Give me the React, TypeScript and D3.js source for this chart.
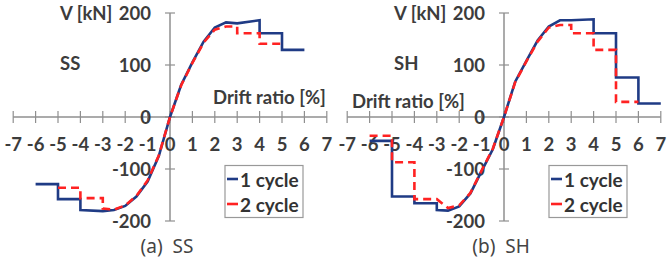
import React from 'react';
import * as d3 from 'd3';

const width = 669;
const height = 262;

// x ticks (drift ratio %) and y ticks (kN)
const xTicks = [-7, -6, -5, -4, -3, -2, -1, 0, 1, 2, 3, 4, 5, 6, 7];
const yTicks = [200, 100, 0, -100, -200];

// [drift ratio, V]
const ss1 = [
  [-6, -129], [-5, -129], [-5, -158], [-4, -158], [-4, -179], [-3, -181],
  [-2.5, -179], [-2, -171], [-1.5, -153], [-1, -124], [-0.5, -75], [0, 0],
  [0.5, 62], [1, 105], [1.5, 145], [2, 172], [2.5, 182], [3, 180], [4, 186],
  [4, 161], [5, 161], [5, 129], [6, 129],
];
const ss2 = [
  [-5, -136], [-4, -136], [-4, -156], [-3, -156], [-3, -176], [-2.5, -178],
  [-2, -170], [-1.5, -152], [-1, -122], [-0.5, -74], [0, 0], [0.5, 61],
  [1, 104], [1.5, 143], [2, 168], [2.5, 174], [3, 174], [3, 161], [4, 161],
  [4, 141], [5, 141],
];
const sh1 = [
  [-6, -46], [-5, -46], [-5, -153], [-4, -153], [-4, -166], [-3, -166],
  [-3, -179], [-2.5, -180], [-2, -172], [-1.5, -147], [-1, -104], [-0.5, -62],
  [0, 0], [0.5, 68], [1, 108], [1.5, 147], [2, 174], [2.5, 186], [3, 186],
  [4, 188], [4, 161], [5, 161], [5, 76], [6, 76], [6, 26], [7, 26],
];
const sh2 = [
  [-6, -36], [-5, -36], [-5, -87], [-4, -87], [-4, -158], [-3, -158],
  [-2.5, -175], [-2, -170], [-1.5, -146], [-1, -103], [-0.5, -61], [0, 0],
  [0.5, 67], [1, 107], [1.5, 145], [2, 172], [2.5, 177], [3, 177], [3, 161],
  [4, 161], [4, 129], [5, 129], [5, 29], [6, 29],
];

const seriesNames = ['1 cycle', '2 cycle'];
const blue = '#1f3b85';
const red = '#ff2222';
const axisColor = '#8f8f8f';
const textColor = '#3c3c3c';
const font = 'Lato, "Liberation Sans", sans-serif';
const fs = 18.5;

const yScale = d3.scaleLinear().domain([-200, 200]).range([221, 13]);

function Panel({ x0, c1, c2, name, driftX, driftY, legendX, caption }) {
  const xScale = d3.scaleLinear().domain([-7, 7]).range([x0 - 156.8, x0 + 156.8]);
  const line = d3
    .line()
    .x(d => xScale(d[0]))
    .y(d => yScale(d[1]));
  const y0 = yScale(0);
  return (
    <g>
      {/* axes */}
      <line x1={xScale(-7)} x2={xScale(7)} y1={y0} y2={y0} stroke={axisColor} strokeWidth={1.5} />
      <line x1={x0} x2={x0} y1={yScale(200)} y2={yScale(-200)} stroke={axisColor} strokeWidth={1.5} />
      {xTicks.map(t => (
        <g key={'x' + t}>
          <line x1={xScale(t)} x2={xScale(t)} y1={y0 - 6} y2={y0 + 6} stroke={axisColor} strokeWidth={1.2} />
          <text x={xScale(t)} y={143.5} textAnchor="middle" dominantBaseline="central"
            fontSize={fs} fontWeight="bold" fill={textColor}>{t}</text>
        </g>
      ))}
      {yTicks.map(t => (
        <g key={'y' + t}>
          <line x1={x0 - 5} x2={x0 + 5} y1={yScale(t)} y2={yScale(t)} stroke={axisColor} strokeWidth={1.2} />
          <text x={x0 - 19} y={yScale(t)} textAnchor="end" dominantBaseline="central"
            fontSize={fs} fontWeight="bold" fill={textColor}>{t}</text>
        </g>
      ))}
      <text x={x0 - 110} y={13} dominantBaseline="central" fontSize={fs} fontWeight="bold" fill={textColor}>V [kN]</text>
      <text x={x0 - 110} y={63} dominantBaseline="central" fontSize={fs} fontWeight="bold" fill={textColor}>{name}</text>
      <text x={driftX} y={driftY} dominantBaseline="central" fontSize={fs} fontWeight="bold" fill={textColor}>Drift ratio [%]</text>

      {/* series */}
      <path d={line(c1)} fill="none" stroke={blue} strokeWidth={2.6} />
      <path d={line(c2)} fill="none" stroke={red} strokeWidth={2.6} strokeDasharray="8 5" />

      {/* legend */}
      <rect x={legendX} y={165.5} width={78} height={52} fill="#fff" stroke="#999" strokeWidth={1.2} />
      {seriesNames.map((s, i) => (
        <g key={s}>
          <line x1={legendX + 2} x2={legendX + 13} y1={179 + i * 25} y2={179 + i * 25}
            stroke={i === 0 ? blue : red} strokeWidth={2.6} />
          <text x={legendX + 15} y={179 + i * 25} dominantBaseline="central" fontSize={19}
            fontWeight="bold" fill="#333">{s}</text>
        </g>
      ))}

      <text x={x0 - 3} y={246} textAnchor="middle" dominantBaseline="central" fontSize={19}
        fontFamily='"Noto Sans", sans-serif' fill="#444">{caption}</text>
    </g>
  );
}

export default function App() {
  return (
    <svg width={width} height={height} style={{ position: 'absolute', left: 0, top: 0, background: '#fff' }}
      fontFamily={font}>
      <rect width={width} height={height} fill="#fff" />
      <Panel x0={170} c1={ss1} c2={ss2} name="SS" driftX={213} driftY={97} legendX={225} caption={'(a)\u00a0\u00a0SS'} />
      <Panel x0={504} c1={sh1} c2={sh2} name="SH" driftX={352} driftY={101} legendX={549} caption={'(b)\u00a0\u00a0SH'} />
    </svg>
  );
}
